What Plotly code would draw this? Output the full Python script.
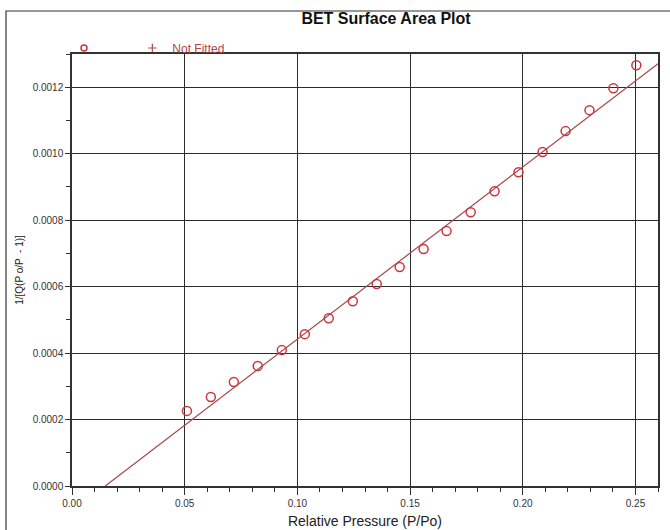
import plotly.graph_objects as go

# Measured BET points (relative pressure, 1/[Q(Po/P - 1)])
rel_pressure = [0.0510, 0.0616, 0.0718, 0.0824, 0.0931, 0.1033, 0.1139, 0.1246,
                0.1352, 0.1454, 0.1560, 0.1662, 0.1769, 0.1875, 0.1981, 0.2088,
                0.2190, 0.2296, 0.2402, 0.2504]
bet_value = [0.000226, 0.000268, 0.000313, 0.000361, 0.000409, 0.000457, 0.000505,
             0.000556, 0.000608, 0.000659, 0.000713, 0.000767, 0.000824, 0.000887,
             0.000944, 0.001005, 0.001068, 0.001131, 0.001197, 0.001266]

# Fitted line endpoints
fit_x = [0.01476, 0.26]
fit_y = [0.0, 0.001271]

x_ticks = [0.0, 0.05, 0.10, 0.15, 0.20, 0.25]
x_tick_labels = ["0.00", "0.05", "0.10", "0.15", "0.20", "0.25"]
y_ticks = [0.0, 0.0002, 0.0004, 0.0006, 0.0008, 0.0010, 0.0012]
y_tick_labels = ["0.0000", "0.0002", "0.0004", "0.0006", "0.0008", "0.0010", "0.0012"]

FONT = "Arial, Liberation Sans, sans-serif"
W, H = 670, 530
ML, MR, MT, MB = 72, 12, 54, 44
pw, ph = W - ML - MR, H - MT - MB

fig = go.Figure()
fig.add_trace(go.Scatter(
    x=fit_x, y=fit_y, mode="lines", showlegend=False,
    line=dict(color="#A5484C", width=1.2), hoverinfo="skip"))
fig.add_trace(go.Scatter(
    x=rel_pressure, y=bet_value, mode="markers", showlegend=False,
    marker=dict(symbol="circle-open", size=9, color="#C8373C",
                line=dict(width=1.5, color="#C8373C"))))
# legend entries
fig.add_trace(go.Scatter(
    x=[None], y=[None], mode="markers", name="&nbsp;" * 7,
    marker=dict(symbol="circle-open", size=6, color="#C8373C",
                line=dict(width=1.5, color="#C8373C"))))
fig.add_trace(go.Scatter(
    x=[None], y=[None], mode="markers", name="Not Fitted",
    marker=dict(symbol="cross-thin-open", size=6, color="#B5484C",
                line=dict(width=1.2, color="#B5484C"))))

def px_x(p):
    return (p - ML) / pw

def px_y(p):
    return (H - MB - p) / ph

# outer frame
fig.add_shape(type="rect", xref="paper", yref="paper",
              x0=px_x(6), x1=px_x(680), y0=px_y(540), y1=px_y(11),
              line=dict(color="#333333", width=1.2), layer="below")

fig.update_layout(
    width=W, height=H,
    margin=dict(l=ML, r=MR, t=MT, b=MB, autoexpand=False),
    paper_bgcolor="white", plot_bgcolor="white",
    font=dict(family=FONT, color="#333333", size=10),
    title=dict(text="<b>BET Surface Area Plot</b>", x=386 / W, xref="container",
               xanchor="center", y=1 - 18 / H, yref="container", yanchor="middle",
               automargin=False,
               font=dict(family=FONT, size=16, color="#111111")),
    legend=dict(orientation="h", x=px_x(64), y=px_y(48), xanchor="left",
                yanchor="middle",
                font=dict(family=FONT, size=12, color="#B04448"),
                bgcolor="rgba(0,0,0,0)", itemclick=False),
    xaxis=dict(
        range=[0, 0.26], tickvals=x_ticks, ticktext=x_tick_labels,
        automargin=False,
        showgrid=True, gridcolor="#2b2b2b", gridwidth=1.2,
        showline=True, linecolor="#333333", linewidth=1.5, mirror=True,
        ticks="outside", ticklen=7, tickcolor="#333333",
        minor=dict(dtick=0.01, tick0=0, ticks="outside", ticklen=4,
                   tickcolor="#333333", showgrid=False),
        zeroline=False,
        title=dict(text="Relative Pressure (P/Po)", standoff=8,
                   font=dict(family=FONT, size=14, color="#222222")),
        tickfont=dict(size=10, color="#333333")),
    yaxis=dict(
        range=[0, 0.0013], tickvals=y_ticks, ticktext=y_tick_labels,
        automargin=False,
        showgrid=True, gridcolor="#2b2b2b", gridwidth=1.2,
        showline=True, linecolor="#333333", linewidth=1.5, mirror=True,
        ticks="outside", ticklen=5, tickcolor="#333333",
        minor=dict(dtick=0.0001, tick0=0, ticks="outside", ticklen=4,
                   tickcolor="#333333", showgrid=False),
        zeroline=False, ticklabelstandoff=0,
        title=dict(text="1/[Q(P o/P  - 1)]", standoff=7,
                   font=dict(family=FONT, size=10, color="#222222")),
        tickfont=dict(size=10, color="#333333")),
)

fig.write_html("out.html", config={"displayModeBar": False},
               post_script="document.body.style.margin='0';document.body.style.overflow='hidden';")
